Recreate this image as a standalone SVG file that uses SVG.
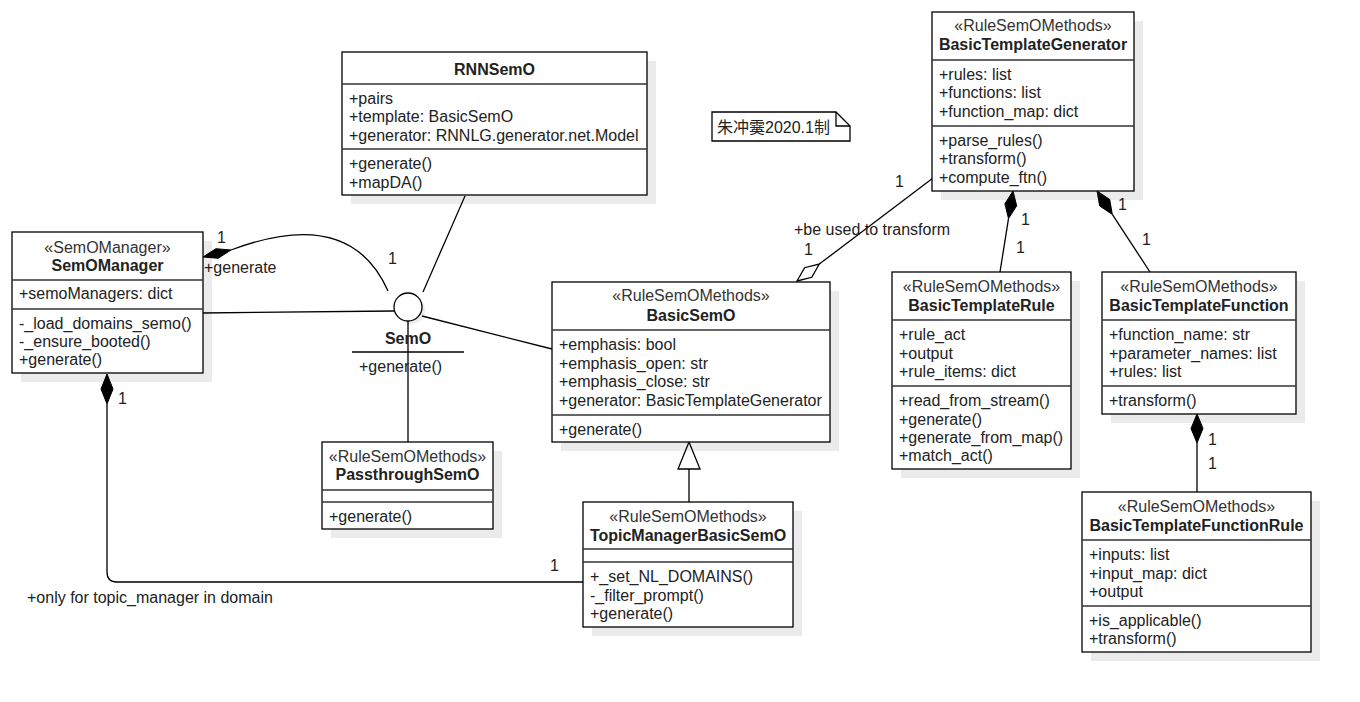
<svg xmlns="http://www.w3.org/2000/svg" width="1360" height="702" viewBox="0 0 1360 702">
<style>
.bg{fill:#ffffff}
.sh{fill:#000;fill-opacity:0.08}
.bx{fill:#fff;stroke:#000;stroke-width:1.3}
.dv{stroke:#333;stroke-width:1.6}
.ln{fill:none;stroke:#000;stroke-width:1.3}
text{font-family:"Liberation Sans",Arial,sans-serif;font-size:16px;fill:#222}
.c{text-anchor:middle}
.b{font-weight:bold}
.st{fill:#333}
.cjk{font-family:"Liberation Sans","Noto Sans CJK SC",sans-serif}
</style>
<rect class="bg" x="0" y="0" width="1360" height="702"/>

<g id="connectors">
  <path class="ln" d="M231,250 Q350,205 388,291"/>
  <polygon points="203,257 215.8,248.7 231,250 218.2,258.3" fill="#000" stroke="#000" stroke-width="1"/>
  <line class="ln" x1="203" y1="313" x2="394" y2="311"/>
  <line class="ln" x1="423" y1="292" x2="465" y2="196"/>
  <line class="ln" x1="422" y1="316" x2="552" y2="349"/>
  <line class="ln" x1="408" y1="321" x2="408" y2="442"/>
  <polygon points="107,374 113,389 107,404 101,389" fill="#000" stroke="#000" stroke-width="1"/>
  <path class="ln" d="M107,404 L107,572 Q107,582 117,582 L583,582"/>
  <line class="ln" x1="689" y1="469" x2="689" y2="502"/>
  <polygon points="689,442 700,469 678,469" fill="#fff" stroke="#000" stroke-width="1.3"/>
  <line class="ln" x1="819.3" y1="264.1" x2="933" y2="178"/>
  <polygon points="797,281 811.8,277.3 819.3,264.1 804.6,267.7" fill="#fff" stroke="#000" stroke-width="1.3"/>
  <polygon points="1013,191 1016.7,205.8 1008.5,218.6 1004.9,203.8" fill="#000" stroke="#000" stroke-width="1"/>
  <line class="ln" x1="1008.5" y1="218.6" x2="1000" y2="272"/>
  <polygon points="1097,191 1109.7,199.4 1112.3,214.4 1099.7,206" fill="#000" stroke="#000" stroke-width="1"/>
  <line class="ln" x1="1112.3" y1="214.4" x2="1150" y2="272"/>
  <polygon points="1197,414 1203,428.5 1197,443 1191,428.5" fill="#000" stroke="#000" stroke-width="1"/>
  <line class="ln" x1="1197" y1="443" x2="1197" y2="492"/>
</g>

<g id="labels">
  <text x="217" y="243">1</text>
  <text x="204" y="273">+generate</text>
  <text x="388" y="264">1</text>
  <text x="118" y="404">1</text>
  <text x="550" y="571">1</text>
  <text x="27" y="603">+only for topic_manager in domain</text>
  <text x="895" y="187">1</text>
  <text x="794" y="235">+be used to transform</text>
  <text x="804" y="255">1</text>
  <text x="1021" y="225">1</text>
  <text x="1016" y="253">1</text>
  <text x="1118" y="210">1</text>
  <text x="1142" y="245">1</text>
  <text x="1208" y="445">1</text>
  <text x="1208" y="469">1</text>
</g>

<g id="SemOManager">
  <rect class="sh" x="21" y="241" width="191" height="141"/>
  <rect class="bx" x="12" y="232" width="191" height="141"/>
  <line class="dv" x1="12" y1="280" x2="203" y2="280"/>
  <line class="dv" x1="12" y1="309" x2="203" y2="309"/>
  <text class="c st" x="107.5" y="253">«SemOManager»</text>
  <text class="c b" x="107.5" y="271">SemOManager</text>
  <text x="19" y="299">+semoManagers: dict</text>
  <text x="19" y="329">-_load_domains_semo()</text>
  <text x="19" y="347">-_ensure_booted()</text>
  <text x="19" y="365">+generate()</text>
</g>

<g id="RNNSemO">
  <rect class="sh" x="351" y="61" width="305" height="143"/>
  <rect class="bx" x="342" y="52" width="305" height="143"/>
  <line class="dv" x1="342" y1="84" x2="647" y2="84"/>
  <line class="dv" x1="342" y1="149" x2="647" y2="149"/>
  <text class="c b" x="494.5" y="75">RNNSemO</text>
  <text x="349" y="104">+pairs</text>
  <text x="349" y="122">+template: BasicSemO</text>
  <text x="349" y="141">+generator: RNNLG.generator.net.Model</text>
  <text x="349" y="169">+generate()</text>
  <text x="349" y="188">+mapDA()</text>
</g>

<g id="SemO">
  <circle cx="411" cy="310" r="14" fill="#000" fill-opacity="0.08"/>
  <circle cx="408" cy="307" r="14" fill="#fff" stroke="#000" stroke-width="1.3"/>
  <text class="c b" x="408" y="344">SemO</text>
  <line class="ln" x1="352" y1="352" x2="464" y2="352"/>
  <text x="359" y="372">+generate()</text>
</g>

<g id="BasicSemO">
  <rect class="sh" x="561" y="291" width="278" height="160"/>
  <rect class="bx" x="552" y="282" width="278" height="160"/>
  <line class="dv" x1="552" y1="330" x2="830" y2="330"/>
  <line class="dv" x1="552" y1="415" x2="830" y2="415"/>
  <text class="c st" x="691" y="301">«RuleSemOMethods»</text>
  <text class="c b" x="691" y="321">BasicSemO</text>
  <text x="559" y="350">+emphasis: bool</text>
  <text x="559" y="368.5">+emphasis_open: str</text>
  <text x="559" y="387">+emphasis_close: str</text>
  <text x="559" y="405.5">+generator: BasicTemplateGenerator</text>
  <text x="559" y="435">+generate()</text>
</g>

<g id="Note">
  <path d="M712,112 L836,112 L850,126 L850,141 L712,141 Z" fill="#fff" stroke="#000" stroke-width="1.3"/>
  <path d="M836,112 L836,126 L850,126" fill="none" stroke="#000" stroke-width="1.3"/>
  <text class="cjk" x="717" y="133">朱冲霙2020.1制</text>
</g>

<g id="BasicTemplateGenerator">
  <rect class="sh" x="941" y="21" width="202" height="179"/>
  <rect class="bx" x="932" y="12" width="202" height="179"/>
  <line class="dv" x1="932" y1="60" x2="1134" y2="60"/>
  <line class="dv" x1="932" y1="126" x2="1134" y2="126"/>
  <text class="c st" x="1033" y="31">«RuleSemOMethods»</text>
  <text class="c b" x="1033" y="50">BasicTemplateGenerator</text>
  <text x="939" y="80">+rules: list</text>
  <text x="939" y="98">+functions: list</text>
  <text x="939" y="116.5">+function_map: dict</text>
  <text x="939" y="146">+parse_rules()</text>
  <text x="939" y="164">+transform()</text>
  <text x="939" y="183">+compute_ftn()</text>
</g>

<g id="BasicTemplateRule">
  <rect class="sh" x="901" y="281" width="179" height="197"/>
  <rect class="bx" x="892" y="272" width="179" height="197"/>
  <line class="dv" x1="892" y1="320" x2="1071" y2="320"/>
  <line class="dv" x1="892" y1="386" x2="1071" y2="386"/>
  <text class="c st" x="981.5" y="292">«RuleSemOMethods»</text>
  <text class="c b" x="981.5" y="311">BasicTemplateRule</text>
  <text x="899" y="340">+rule_act</text>
  <text x="899" y="359">+output</text>
  <text x="899" y="377">+rule_items: dict</text>
  <text x="899" y="406">+read_from_stream()</text>
  <text x="899" y="425">+generate()</text>
  <text x="899" y="443">+generate_from_map()</text>
  <text x="899" y="461">+match_act()</text>
</g>

<g id="BasicTemplateFunction">
  <rect class="sh" x="1111" y="281" width="194" height="142"/>
  <rect class="bx" x="1102" y="272" width="194" height="142"/>
  <line class="dv" x1="1102" y1="320" x2="1296" y2="320"/>
  <line class="dv" x1="1102" y1="386" x2="1296" y2="386"/>
  <text class="c st" x="1199" y="292">«RuleSemOMethods»</text>
  <text class="c b" x="1199" y="311">BasicTemplateFunction</text>
  <text x="1109" y="340">+function_name: str</text>
  <text x="1109" y="359">+parameter_names: list</text>
  <text x="1109" y="377">+rules: list</text>
  <text x="1109" y="406">+transform()</text>
</g>

<g id="BasicTemplateFunctionRule">
  <rect class="sh" x="1091" y="501" width="229" height="160"/>
  <rect class="bx" x="1082" y="492" width="229" height="160"/>
  <line class="dv" x1="1082" y1="540" x2="1311" y2="540"/>
  <line class="dv" x1="1082" y1="606" x2="1311" y2="606"/>
  <text class="c st" x="1196.5" y="512">«RuleSemOMethods»</text>
  <text class="c b" x="1196.5" y="531">BasicTemplateFunctionRule</text>
  <text x="1089" y="560">+inputs: list</text>
  <text x="1089" y="579">+input_map: dict</text>
  <text x="1089" y="597">+output</text>
  <text x="1089" y="626">+is_applicable()</text>
  <text x="1089" y="644">+transform()</text>
</g>

<g id="PassthroughSemO">
  <rect class="sh" x="331" y="451" width="171" height="87"/>
  <rect class="bx" x="322" y="442" width="171" height="87"/>
  <line class="dv" x1="322" y1="490" x2="493" y2="490"/>
  <line class="dv" x1="322" y1="502" x2="493" y2="502"/>
  <text class="c st" x="407.5" y="462">«RuleSemOMethods»</text>
  <text class="c b" x="407.5" y="480">PassthroughSemO</text>
  <text x="329" y="522">+generate()</text>
</g>

<g id="TopicManagerBasicSemO">
  <rect class="sh" x="592" y="511" width="210" height="125"/>
  <rect class="bx" x="583" y="502" width="210" height="125"/>
  <line class="dv" x1="583" y1="549" x2="793" y2="549"/>
  <line class="dv" x1="583" y1="562" x2="793" y2="562"/>
  <text class="c st" x="688" y="522">«RuleSemOMethods»</text>
  <text class="c b" x="688" y="541">TopicManagerBasicSemO</text>
  <text x="590" y="582">+_set_NL_DOMAINS()</text>
  <text x="590" y="601">-_filter_prompt()</text>
  <text x="590" y="619">+generate()</text>
</g>
</svg>
